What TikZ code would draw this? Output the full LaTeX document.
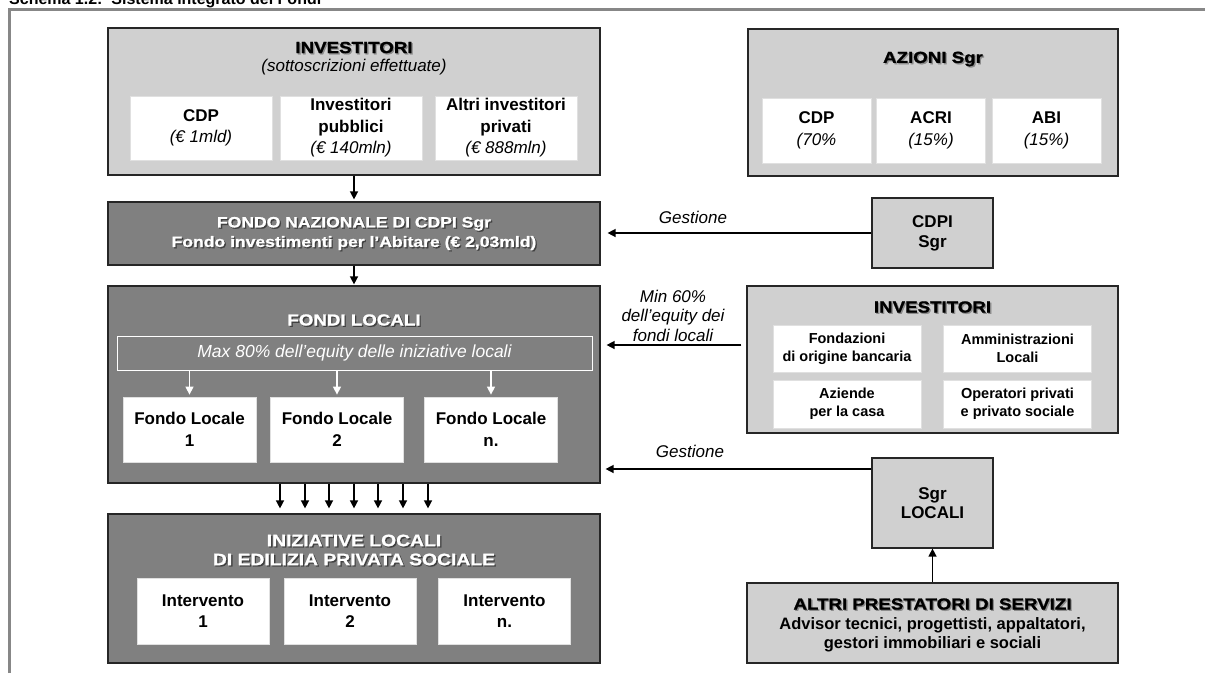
\documentclass[tikz,border=0pt]{standalone}
\usepackage{fontspec}
\setmainfont{Liberation Sans}
\newfontfamily\ttlfont{Liberation Sans}[FakeStretch=1.17,FakeBold=1.2]
\usetikzlibrary{arrows.meta,calc}
\definecolor{lgray}{HTML}{D0D0D0}
\definecolor{dgray}{HTML}{808080}
\definecolor{framec}{HTML}{878787}
\tikzset{
 lbox/.style={draw=black!85, line width=1.2pt, fill=lgray, inner sep=0pt},
 dbox/.style={draw=black!85, line width=1.2pt, fill=dgray, inner sep=0pt},
 wbox/.style={draw=black!12, line width=0.8pt, fill=white, inner sep=0pt, align=center, font=\fontsize{17}{21.5}\selectfont\bfseries},
 sbox/.style={wbox, font=\fontsize{14.5}{18}\selectfont\bfseries},
 arr/.style={-{Triangle[length=8pt,width=8pt]}, line width=1.4pt, draw=black},
 warr/.style={-{Triangle[length=8pt,width=8pt]}, line width=1.4pt, draw=white},
 lbl/.style={font=\fontsize{17}{19.5}\selectfont\itshape, align=center, inner sep=0pt},
 ttl/.style={font=\fontsize{16}{19}\selectfont\ttlfont\bfseries, align=center, inner sep=0pt},
}
\newcommand\shtitle[6][]{%
  \node[ttl, #1, text=#5] at ($(#2)+(1.3,1.3)$) {#6};
  \node[ttl, #1, text=#4] (#3) at (#2) {#6};}
\begin{document}
\begin{tikzpicture}[x=1pt,y=-1pt]
\useasboundingbox (0,0) rectangle (1205,673);
\begin{scope}
\clip (0,0) rectangle (1205,673);
\node[anchor=base west, inner sep=0pt, font=\fontsize{16}{19}\selectfont\bfseries] (hdr) at (9,4.5) {Schema 1.2:\ \ Sistema integrato dei Fondi};
\end{scope}
\draw[draw=framec, line width=2.7pt] (9.5,673) -- (9.5,9.5) -- (1205,9.5);

% ---- left column ----
\node[lbox, minimum width=492, minimum height=147] (inv) at (354,101.5) {};
\shtitle{354,47.5}{invT}{black}{black!45}{INVESTITORI}
\node[lbl] (invS) at (354,67.5) {(sottoscrizioni effettuate)};
\node[wbox, minimum width=142, minimum height=64] (invA) at (201,128) {CDP\\{\mdseries\itshape (€ 1mld)}};
\node[wbox, minimum width=142, minimum height=64] (invB) at (351,128) {Investitori\\pubblici\\{\mdseries\itshape (€ 140mln)}};
\node[wbox, minimum width=142, minimum height=64] (invC) at (506,128) {Altri investitori\\privati\\{\mdseries\itshape (€ 888mln)}};

\node[dbox, minimum width=492, minimum height=63] (fn) at (354,233.5) {};
\shtitle[font=\fontsize{15}{19.5}\selectfont\ttlfont\bfseries]{354,233.5}{fnT}{white}{black!75}{FONDO NAZIONALE DI CDPI Sgr\\Fondo investimenti per l’Abitare (€ 2,03mld)}

\node[dbox, minimum width=492, minimum height=197] (fl) at (354,384.5) {};
\shtitle{354,320}{flT}{white}{black!75}{FONDI LOCALI}
\node[draw=white, line width=1pt, minimum width=475, minimum height=34, inner sep=0pt,
      font=\fontsize{17.5}{19}\selectfont\itshape, text=white] (maxr) at (354.5,353) {Max 80\% dell’equity delle iniziative locali};
\node[wbox, minimum width=133, minimum height=65] (flA) at (189.5,429.5) {Fondo Locale\\1};
\node[wbox, minimum width=133, minimum height=65] (flB) at (337,429.5) {Fondo Locale\\2};
\node[wbox, minimum width=133, minimum height=65] (flC) at (491,429.5) {Fondo Locale\\n.};

\node[dbox, minimum width=492, minimum height=149] (ini) at (354,588.5) {};
\shtitle[font=\fontsize{16.5}{19}\selectfont\ttlfont\bfseries]{354,550}{iniT}{white}{black!75}{INIZIATIVE LOCALI\\DI EDILIZIA PRIVATA SOCIALE}
\node[wbox, minimum width=132, minimum height=66] (inA) at (203,611) {Intervento\\1};
\node[wbox, minimum width=132, minimum height=66] (inB) at (350,611) {Intervento\\2};
\node[wbox, minimum width=132, minimum height=66] (inC) at (504.5,611) {Intervento\\n.};

% ---- right column ----
\node[lbox, minimum width=370, minimum height=147] (az) at (933,102.5) {};
\shtitle{933,59}{azT}{black}{black!45}{AZIONI Sgr}
\node[wbox, minimum width=109, minimum height=65] (azA) at (816.5,130.5) {CDP\\{\mdseries\itshape (70\%}};
\node[wbox, minimum width=109, minimum height=65] (azB) at (931,130.5) {ACRI\\{\mdseries\itshape (15\%)}};
\node[wbox, minimum width=109, minimum height=65] (azC) at (1046.5,130.5) {ABI\\{\mdseries\itshape (15\%)}};

\node[lbox, minimum width=121, minimum height=70, align=center,
      font=\fontsize{17}{20}\selectfont\bfseries] (cdpi) at (932.5,233) {CDPI\\Sgr};

\node[lbox, minimum width=371, minimum height=147] (inv2) at (932.5,359.5) {};
\shtitle{932.5,307}{inv2T}{black}{black!45}{INVESTITORI}
\node[sbox, minimum width=148, minimum height=47] (i2A) at (847,348.5) {Fondazioni\\di origine bancaria};
\node[sbox, minimum width=148, minimum height=47] (i2B) at (1017.5,348.5) {Amministrazioni\\Locali};
\node[sbox, minimum width=148, minimum height=48] (i2C) at (847,404) {Aziende\\per la casa};
\node[sbox, minimum width=148, minimum height=48] (i2D) at (1017.5,404) {Operatori privati\\e privato sociale};

\node[lbox, minimum width=121, minimum height=90, align=center,
      font=\fontsize{17}{19}\selectfont\bfseries] (sgrl) at (932.5,503) {Sgr\\LOCALI};

\node[lbox, minimum width=371, minimum height=80] (altri) at (932.5,623) {};
\shtitle{932.5,604}{altriT}{black}{black!45}{ALTRI PRESTATORI DI SERVIZI}
\node[inner sep=0pt, align=center, font=\fontsize{16.5}{19}\selectfont\bfseries] (altriS) at (932.5,635)
  {Advisor tecnici, progettisti, appaltatori,\\gestori immobiliari e sociali};

% ---- connectors ----
\draw[arr, shorten >=2pt] (inv.south) -- (fn.north);
\draw[arr, shorten >=1pt] (fn.south) -- (fl.north);
\foreach \n in {flA,flB,flC}
  \draw[warr, shorten >=2pt] (maxr.south -| \n.north) -- (\n.north);
\foreach \x in {280,305,329,354,378,403,428}
  \draw[arr, shorten >=5pt] (\x,0 |- fl.south) -- (\x,0 |- ini.north);
\draw[arr, shorten >=7pt] (cdpi.west) -- (cdpi.west -| fn.east);
\node[lbl] (g1) at (693,217) {Gestione};
\draw[arr, shorten <=5pt, shorten >=6pt] (inv2.west |- 0,345) -- (fl.east |- 0,345);
\node[lbl] (m60) at (673,315.5) {Min 60\%\\dell’equity dei\\fondi locali};
\draw[arr, shorten >=5pt] (sgrl.west |- 0,469) -- (fl.east |- 0,469);
\node[lbl] (g2) at (690,451) {Gestione};
\draw[arr] (altri.north) -- (sgrl.south);
\end{tikzpicture}
\end{document}
